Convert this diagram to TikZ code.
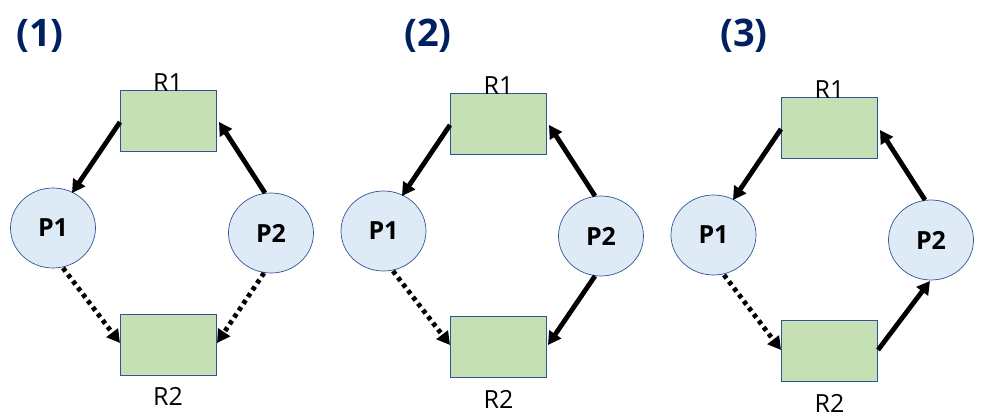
\documentclass[tikz,border=0pt]{standalone}
\usepackage{fontspec}
\setmainfont{Open Sans}
\usetikzlibrary{arrows.meta,shapes.geometric}
\definecolor{rfill}{HTML}{C5E0B4}
\definecolor{pfill}{HTML}{DEEBF7}
\definecolor{edge}{HTML}{2F5597}
\definecolor{navy}{HTML}{002060}
\tikzset{
  res/.style={draw=edge, fill=rfill, line width=0.9pt, minimum width=96pt, minimum height=61pt, inner sep=0pt},
  proc/.style={draw=edge, fill=pfill, line width=0.7pt, ellipse, minimum width=85pt, minimum height=80pt, inner sep=0pt, font=\fontsize{25}{25}\selectfont\bfseries},
  lbl/.style={font=\fontsize{25}{25}\selectfont, inner sep=0pt},
  ttl/.style={font=\fontsize{38}{38}\selectfont\bfseries, text=navy, inner sep=0pt},
  solidarr/.style={line width=4.8pt, -{Triangle[length=13pt,width=14pt]}},
  dotarr/.style={line width=4.8pt, dash pattern=on 4.2pt off 4pt, -{Triangle[length=13pt,width=14pt]}},
}
\begin{document}
\begin{tikzpicture}[x=1pt,y=-1pt]
\useasboundingbox (0,0) rectangle (989,419);
% ---------- Panel 1 ----------
\node[ttl] (t1) at (40,36) {(1)};
\node[res] (a1) at (168,121) {};
\node[res] (a2) at (168,344.5) {};
\node[proc] (ap1) at (53,228) {P1};
\node[proc] (ap2) at (271,233) {P2};
\node[lbl] (al1) at (168,83) {R1};
\node[lbl] (al2) at (168,396) {R2};
\coordinate (a1w) at (120,122);
\coordinate (a1e) at (219,122);
\coordinate (a2w) at (120,343);
\coordinate (a2e) at (217,343);
\coordinate (ap1n) at (72,193);
\coordinate (ap1s) at (63,268);
\coordinate (ap2n) at (265,193);
\coordinate (ap2s) at (264,273);
\draw[solidarr] (a1w) -- (ap1n);
\draw[solidarr] (ap2n) -- (a1e);
\draw[dotarr] (ap1s) -- (a2w);
\draw[dotarr] (ap2s) -- (a2e);
% ---------- Panel 2 ----------
\node[ttl] (t2) at (428,36) {(2)};
\node[res] (b1) at (498.5,124) {};
\node[res] (b2) at (498.5,347) {};
\node[proc] (bp1) at (383.5,231) {P1};
\node[proc] (bp2) at (601,236) {P2};
\node[lbl] (bl1) at (498.5,86) {R1};
\node[lbl] (bl2) at (498.5,399) {R2};
\coordinate (b1w) at (450,125);
\coordinate (b1e) at (549,125);
\coordinate (b2w) at (450,345);
\coordinate (b2e) at (548,345);
\coordinate (bp1n) at (402,196);
\coordinate (bp1s) at (393,271);
\coordinate (bp2n) at (595,196);
\coordinate (bp2s) at (595,276);
\draw[solidarr] (b1w) -- (bp1n);
\draw[solidarr] (bp2n) -- (b1e);
\draw[dotarr] (bp1s) -- (b2w);
\draw[solidarr] (bp2s) -- (b2e);
% ---------- Panel 3 ----------
\node[ttl] (t3) at (744,36) {(3)};
\node[res] (c1) at (829.5,128) {};
\node[res] (c2) at (829.5,351) {};
\node[proc] (cp1) at (713.5,235) {P1};
\node[proc] (cp2) at (931,240) {P2};
\node[lbl] (cl1) at (829.5,90) {R1};
\node[lbl] (cl2) at (829.5,403) {R2};
\coordinate (c1w) at (781,129);
\coordinate (c1e) at (880,130);
\coordinate (c2w) at (781,350);
\coordinate (c2e) at (878,350);
\coordinate (cp1n) at (733,200);
\coordinate (cp1s) at (724,275);
\coordinate (cp2n) at (925,200);
\coordinate (cp2s) at (930,281);
\draw[solidarr] (c1w) -- (cp1n);
\draw[solidarr] (cp2n) -- (c1e);
\draw[dotarr] (cp1s) -- (c2w);
\draw[solidarr] (c2e) -- (cp2s);
\end{tikzpicture}
\end{document}
